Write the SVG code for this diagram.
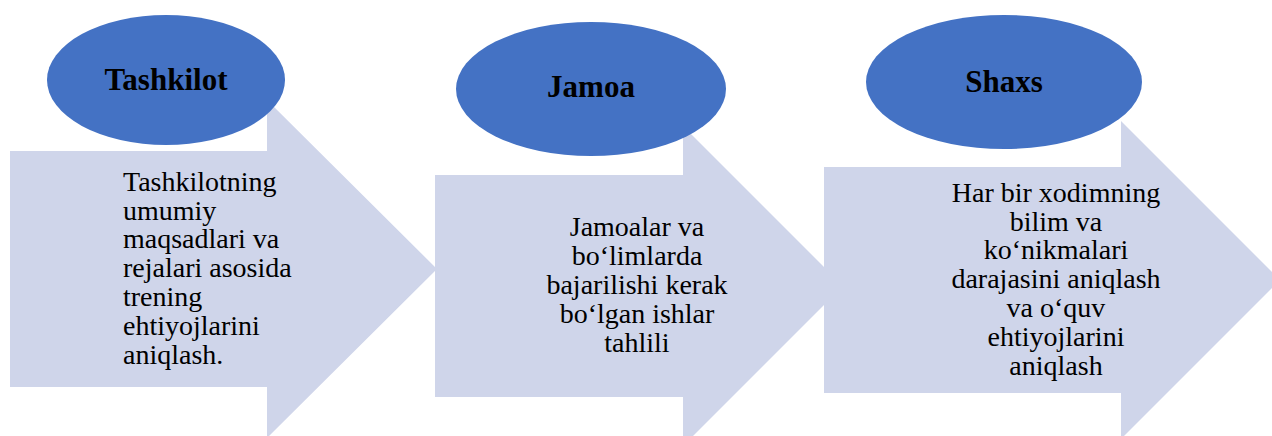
<svg xmlns="http://www.w3.org/2000/svg" width="1272" height="436" viewBox="0 0 1272 436">
<style>
.arrow{fill:#CFD5EA;}
.oval{fill:#4472C4;}
text{font-family:'Liberation Serif','Times New Roman','DejaVu Serif',serif;fill:#000;}
.title{font-weight:bold;font-size:31px;text-anchor:middle;}
.body{font-size:28px;}
.c{text-anchor:middle;}
</style>
<rect width="1272" height="436" fill="#FFFFFF"/>
<g id="arrow1"><polygon class="arrow" points="10,151 267,151 267,100 437,269 267,438 267,387 10,387"/>
<text class="body" font-family="Liberation Serif, serif"><tspan x="123" y="191">Tashkilotning</tspan><tspan x="123" y="220">umumiy</tspan><tspan x="123" y="248">maqsadlari va</tspan><tspan x="123" y="277">rejalari asosida</tspan><tspan x="123" y="306">trening</tspan><tspan x="123" y="335">ehtiyojlarini</tspan><tspan x="123" y="364">aniqlash.</tspan></text></g>
<g id="arrow2"><polygon class="arrow" points="435,175 683,175 683,126 843,286 683,446 683,397 435,397"/>
<text class="body c" font-family="Liberation Serif, serif"><tspan x="637" y="236">Jamoalar va</tspan><tspan x="637" y="265">bo‘limlarda</tspan><tspan x="637" y="294">bajarilishi kerak</tspan><tspan x="637" y="323">bo‘lgan ishlar</tspan><tspan x="637" y="352">tahlili</tspan></text></g>
<g id="arrow3"><polygon class="arrow" points="824,167 1121,167 1121,121 1280,280 1121,439 1121,393 824,393"/>
<text class="body c" font-family="Liberation Serif, serif"><tspan x="1056" y="202">Har bir xodimning</tspan><tspan x="1056" y="231">bilim va</tspan><tspan x="1056" y="259">ko‘nikmalari</tspan><tspan x="1056" y="288">darajasini aniqlash</tspan><tspan x="1056" y="317">va o‘quv</tspan><tspan x="1056" y="346">ehtiyojlarini</tspan><tspan x="1056" y="375">aniqlash</tspan></text></g>
<g id="node1"><ellipse class="oval" cx="166" cy="80" rx="119" ry="65"/><text class="title" font-family="Liberation Serif, serif" x="166" y="90">Tashkilot</text></g>
<g id="node2"><ellipse class="oval" cx="591" cy="89" rx="135" ry="67"/><text class="title" font-family="Liberation Serif, serif" x="591" y="97">Jamoa</text></g>
<g id="node3"><ellipse class="oval" cx="1004" cy="82" rx="138" ry="67"/><text class="title" font-family="Liberation Serif, serif" x="1004" y="92">Shaxs</text></g>
<g id="connectors"></g>
</svg>
